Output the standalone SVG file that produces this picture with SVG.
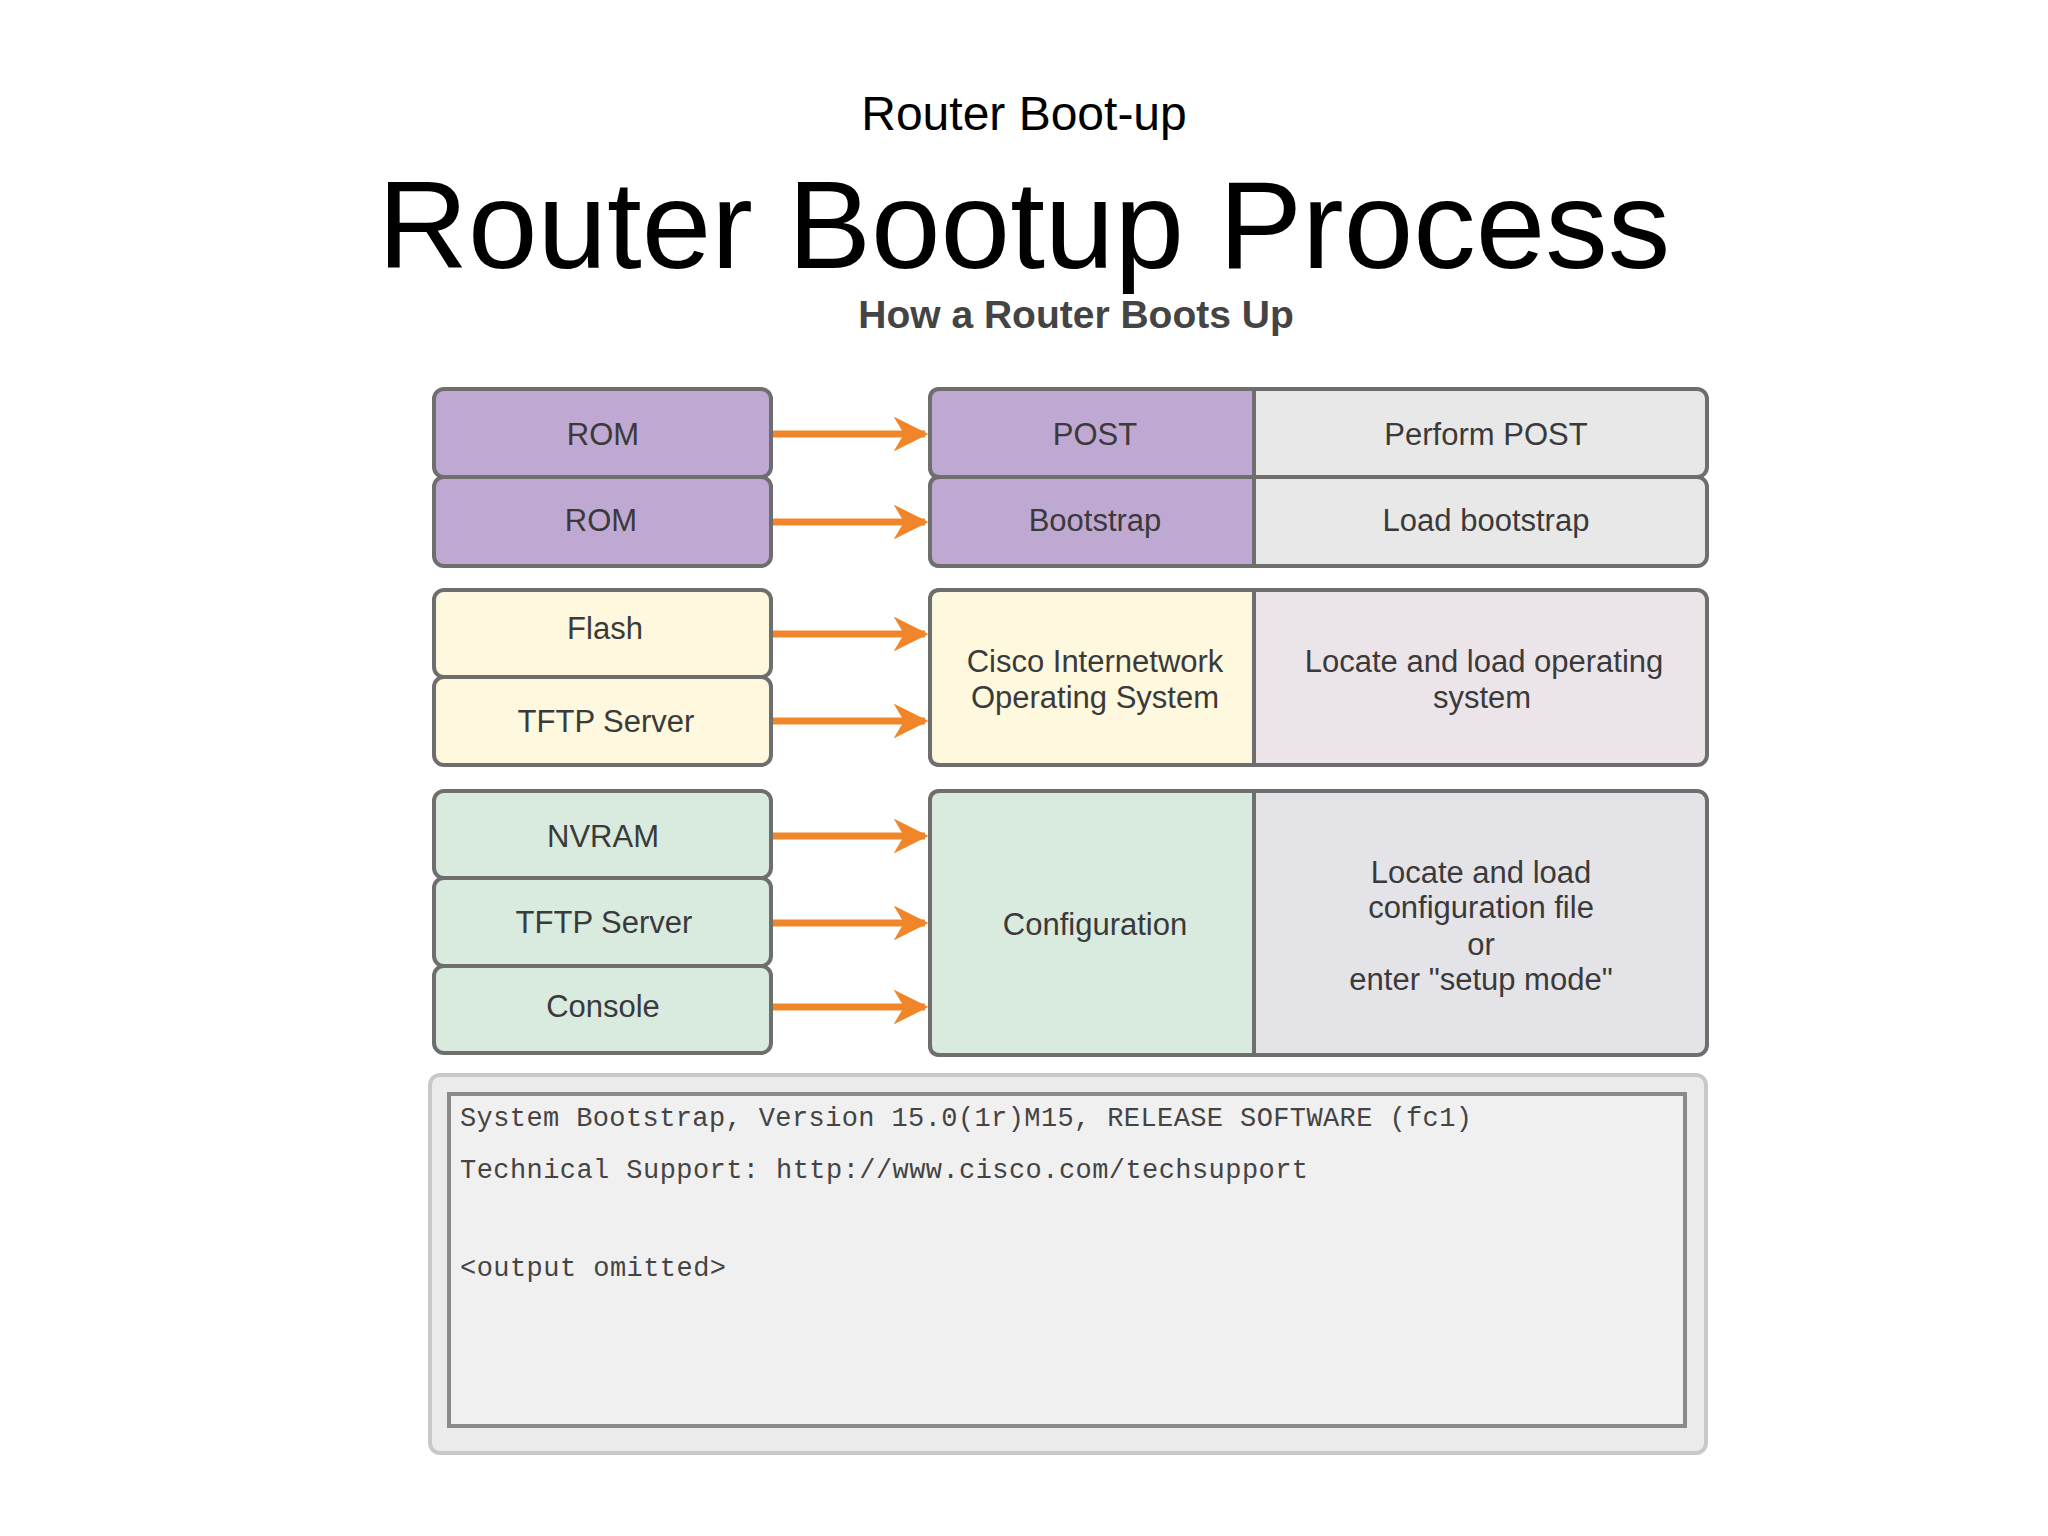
<svg xmlns="http://www.w3.org/2000/svg" width="2048" height="1536" viewBox="0 0 2048 1536">
<defs>
<style>
.t{font-family:"Liberation Sans",Arial,sans-serif;font-size:31px;fill:#3a3a3a;text-anchor:middle}
.box{stroke:#6e6e6e;stroke-width:4}
.p{fill:#bfa8d2}.y{fill:#fdf8de}.g{fill:#d9eadf}.gr{fill:#e8e8e8}.pk{fill:#ebe4e8}.gg{fill:#e4e3e8}
.a{stroke:#f0852a;stroke-width:7;fill:none;marker-end:url(#ah)}
.m{font-family:"Liberation Mono","Courier New",monospace;font-size:27px;fill:#444}
</style>
<marker id="ah" viewBox="0 0 10 10" refX="9" refY="5" markerWidth="5" markerHeight="5" orient="auto" markerUnits="strokeWidth">
<path d="M0,0 L10,5 L0,10 L3,5 Z" fill="#f0852a"/>
</marker>
</defs>
<rect width="2048" height="1536" fill="#fff"/>
<text x="1024" y="130" font-family="Liberation Sans,Arial,sans-serif" font-size="48" text-anchor="middle" fill="#000">Router Boot-up</text>
<text x="1024" y="268" font-family="Liberation Sans,Arial,sans-serif" font-size="125" text-anchor="middle" fill="#000">Router Bootup Process</text>
<text x="1076" y="328" font-family="Liberation Sans,Arial,sans-serif" font-size="39" font-weight="bold" text-anchor="middle" fill="#444">How a Router Boots Up</text>

<g id="rom1"><rect class="box p" x="434" y="389" width="337" height="88" rx="10"/><text class="t" x="603" y="445">ROM</text></g>
<g id="rom2"><rect class="box p" x="434" y="477" width="337" height="89" rx="10"/><text class="t" x="601" y="531">ROM</text></g>
<g id="flash"><rect class="box y" x="434" y="590" width="337" height="87" rx="10"/><text class="t" x="605" y="639">Flash</text></g>
<g id="tftp1"><rect class="box y" x="434" y="677" width="337" height="88" rx="10"/><text class="t" x="606" y="732">TFTP Server</text></g>
<g id="nvram"><rect class="box g" x="434" y="791" width="337" height="87" rx="10"/><text class="t" x="603" y="847">NVRAM</text></g>
<g id="tftp2"><rect class="box g" x="434" y="878" width="337" height="88" rx="10"/><text class="t" x="604" y="933">TFTP Server</text></g>
<g id="console"><rect class="box g" x="434" y="966" width="337" height="87" rx="10"/><text class="t" x="603" y="1017">Console</text></g>

<g id="post"><rect class="box gr" x="930" y="389" width="777" height="88" rx="10"/><path class="box p" d="M940,389 H1254 V477 H940 Q930,477 930,467 V399 Q930,389 940,389 Z"/><text class="t" x="1095" y="445">POST</text><text class="t" x="1486" y="445">Perform POST</text></g>
<g id="bootstrap"><rect class="box gr" x="930" y="477" width="777" height="89" rx="10"/><path class="box p" d="M940,477 H1254 V566 H940 Q930,566 930,556 V487 Q930,477 940,477 Z"/><text class="t" x="1095" y="531">Bootstrap</text><text class="t" x="1486" y="531">Load bootstrap</text></g>
<g id="ios"><rect class="box pk" x="930" y="590" width="777" height="175" rx="10"/><path class="box y" d="M940,590 H1254 V765 H940 Q930,765 930,755 V600 Q930,590 940,590 Z"/><text class="t" x="1095" y="672">Cisco Internetwork</text><text class="t" x="1095" y="708">Operating System</text><text class="t" x="1484" y="672">Locate and load operating</text><text class="t" x="1482" y="708">system</text></g>
<g id="config"><rect class="box gg" x="930" y="791" width="777" height="264" rx="10"/><path class="box g" d="M940,791 H1254 V1055 H940 Q930,1055 930,1045 V801 Q930,791 940,791 Z"/><text class="t" x="1095" y="935">Configuration</text><text class="t" x="1481" y="883">Locate and load</text><text class="t" x="1481" y="918">configuration file</text><text class="t" x="1481" y="955">or</text><text class="t" x="1481" y="990">enter "setup mode"</text></g>

<g id="connectors">
<line class="a" x1="773" y1="434" x2="925" y2="434"/>
<line class="a" x1="773" y1="522" x2="925" y2="522"/>
<line class="a" x1="773" y1="634" x2="925" y2="634"/>
<line class="a" x1="773" y1="721" x2="925" y2="721"/>
<line class="a" x1="773" y1="836" x2="925" y2="836"/>
<line class="a" x1="773" y1="923" x2="925" y2="923"/>
<line class="a" x1="773" y1="1007" x2="925" y2="1007"/>
</g>

<g id="terminal">
<rect x="430" y="1075" width="1276" height="378" rx="10" fill="#ebebeb" stroke="#c8c8c8" stroke-width="4"/>
<rect x="449" y="1094" width="1236" height="332" fill="#f1f0f1" stroke="#8a8a8a" stroke-width="4"/>
<text class="m" x="460" y="1126" textLength="1012">System Bootstrap, Version 15.0(1r)M15, RELEASE SOFTWARE (fc1)</text>
<text class="m" x="460" y="1178" textLength="848">Technical Support: http://www.cisco.com/techsupport</text>
<text class="m" x="460" y="1276" textLength="266">&lt;output omitted&gt;</text>
</g>
</svg>
